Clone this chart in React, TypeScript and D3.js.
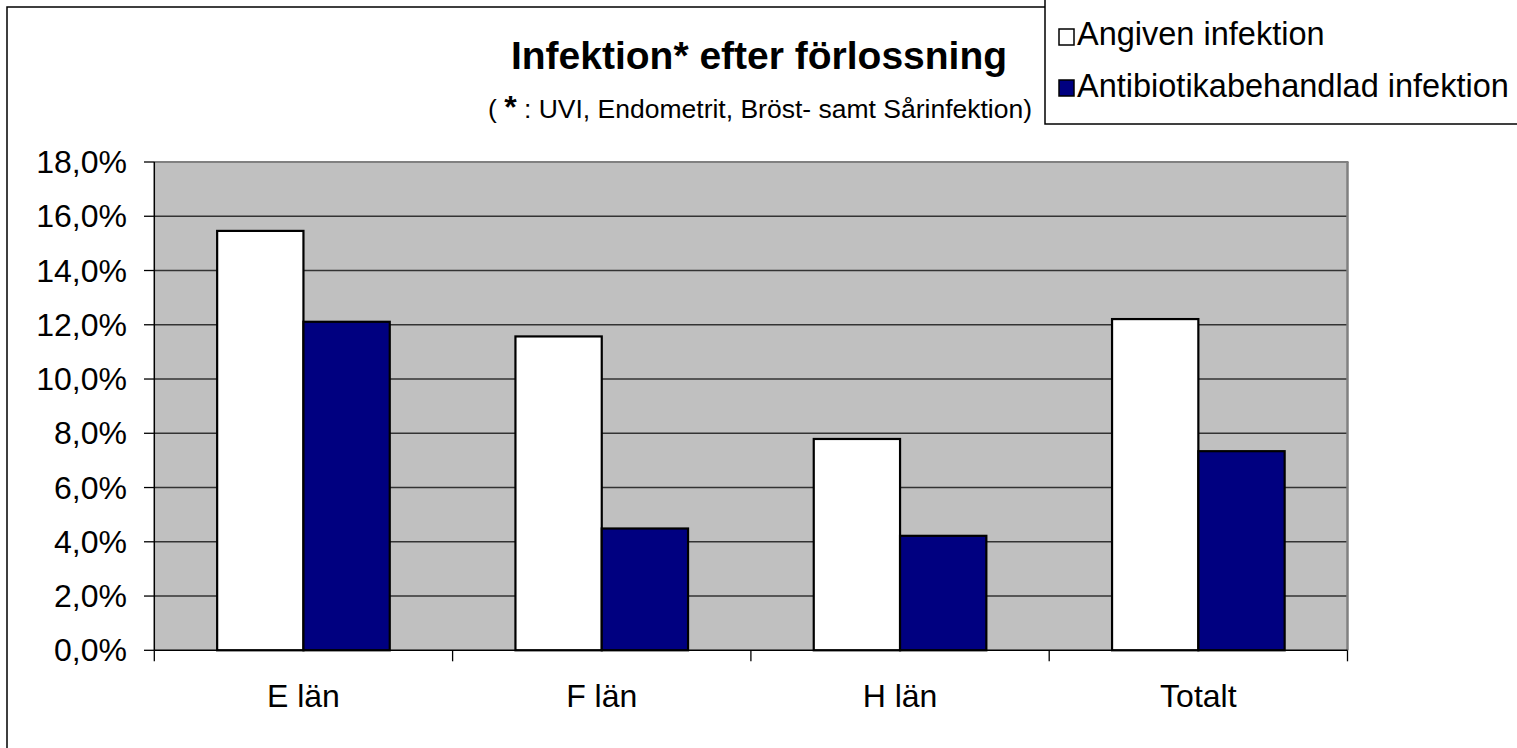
import React from "react";
import * as d3 from "d3";

const categories = ["E län", "F län", "H län", "Totalt"];
const seriesNames = ["Angiven infektion", "Antibiotikabehandlad infektion"];
const angiven = [15.46, 11.57, 7.79, 12.21];
const antibiotika = [12.11, 4.49, 4.22, 7.34];
const yTicks = [0, 2, 4, 6, 8, 10, 12, 14, 16, 18];
const seriesColors = ["#FFFFFF", "#000080"];
const title = "Infektion* efter förlossning";

const FONT = "'Liberation Sans', Arial, Helvetica, sans-serif";

export default function App() {
  const W = 1517;
  const H = 748;
  const left = 154.3;
  const right = 1347.5;
  const top = 162;
  const bottom = 650.3;

  const x = d3.scaleBand<string>().domain(categories).range([left, right]).paddingInner(0).paddingOuter(0);
  const y = d3.scaleLinear().domain([0, 18]).range([bottom, top]);
  const groupW = 172.6;
  const inner = d3
    .scaleBand<string>()
    .domain(seriesNames)
    .range([(x.bandwidth() - groupW) / 2, (x.bandwidth() + groupW) / 2]);

  const series = [angiven, antibiotika];
  const fmt = (v: number) => v.toFixed(1).replace(".", ",") + "%";
  const boundaries = [...categories.map((c) => x(c) as number), right];

  return (
    <svg
      width={W}
      height={H}
      style={{ position: "fixed", left: 0, top: 0, background: "#fff" }}
      fontFamily={FONT}
    >
      <rect x={0} y={0} width={W} height={H} fill="#fff" />
      {/* outer chart frame */}
      <rect x={7} y={7} width={W + 20} height={H + 20} fill="none" stroke="#000" strokeWidth={1.5} />

      {/* plot area */}
      <rect x={left} y={top} width={right - left} height={bottom - top} fill="#C0C0C0" />
      {yTicks.slice(1).map((t) => (
        <line key={"g" + t} x1={left} x2={right} y1={y(t)} y2={y(t)} stroke="#333" strokeWidth={1.4} />
      ))}
      {/* plot border top & right */}
      <line x1={left} x2={right + 1} y1={top} y2={top} stroke="#808080" strokeWidth={2} />
      <line x1={right} x2={right} y1={top} y2={bottom} stroke="#808080" strokeWidth={2.5} />

      {/* bars */}
      {categories.map((c, ci) =>
        series.map((vals, si) => {
          const bx = (x(c) as number) + (inner(seriesNames[si]) as number);
          return (
            <rect
              key={c + si}
              x={bx}
              y={y(vals[ci])}
              width={inner.bandwidth()}
              height={bottom - y(vals[ci])}
              fill={seriesColors[si]}
              stroke="#000"
              strokeWidth={2.2}
            />
          );
        })
      )}

      {/* axes */}
      <line x1={left} x2={left} y1={top} y2={bottom} stroke="#000" strokeWidth={1.5} />
      <line x1={left} x2={right} y1={bottom} y2={bottom} stroke="#000" strokeWidth={1.5} />
      {yTicks.map((t) => (
        <g key={"t" + t}>
          <line x1={144} x2={left} y1={y(t)} y2={y(t)} stroke="#000" strokeWidth={1.3} />
          <text
            x={127}
            y={y(t)}
            textAnchor="end"
            dominantBaseline="central"
            fontSize={32}
            fill="#000"
          >
            {fmt(t)}
          </text>
        </g>
      ))}
      {boundaries.map((b, i) => (
        <line key={"xt" + i} x1={b} x2={b} y1={bottom} y2={bottom + 11} stroke="#000" strokeWidth={1.3} />
      ))}
      {categories.map((c) => (
        <text
          key={"c" + c}
          x={(x(c) as number) + x.bandwidth() / 2}
          y={707}
          textAnchor="middle"
          fontSize={32}
          fill="#000"
        >
          {c}
        </text>
      ))}

      {/* title */}
      <text x={759} y={69} textAnchor="middle" fontSize={39} fontWeight="bold" fill="#000">
        {title}
      </text>
      <text x={760} y={118} textAnchor="middle" fontSize={26.5} fill="#000">
        {"( "}
        <tspan fontWeight="bold" fontSize={32}>*</tspan>
        {" : UVI, Endometrit, Bröst- samt Sårinfektion)"}
      </text>

      {/* legend */}
      <rect x={1045} y={-2} width={500} height={126} fill="#fff" stroke="#000" strokeWidth={1.5} />
      {seriesNames.map((s, i) => (
        <g key={"l" + s}>
          <rect
            x={1059}
            y={29 + i * 51}
            width={15}
            height={16}
            fill={seriesColors[i]}
            stroke="#000"
            strokeWidth={1.5}
          />
          <text x={1077} y={45 + i * 52} fontSize={32.5} fill="#000">
            {s}
          </text>
        </g>
      ))}
    </svg>
  );
}
